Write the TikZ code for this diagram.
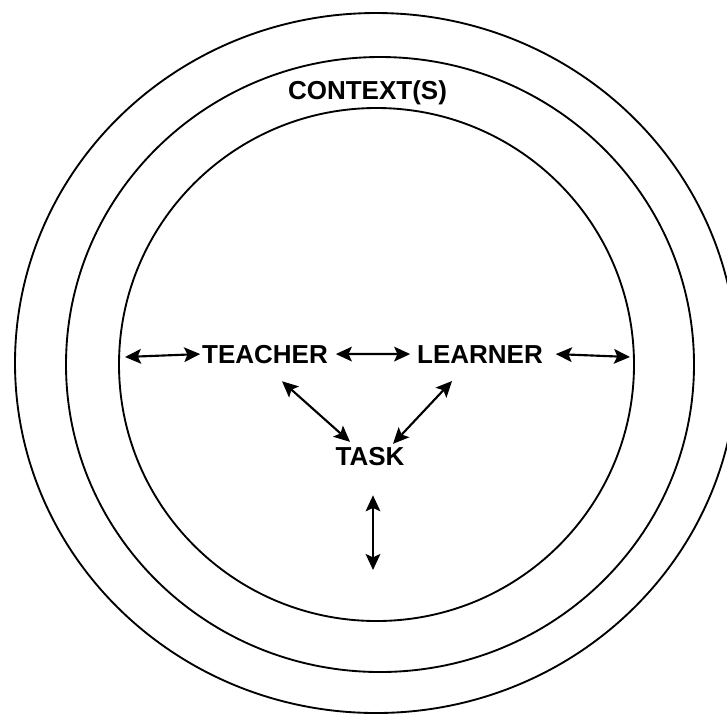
\documentclass[tikz,border=0pt]{standalone}
\usepackage{fontspec}
\setmainfont{Liberation Sans}
\usepackage{tikz}
\usetikzlibrary{arrows.meta,calc}

\begin{document}
\begin{tikzpicture}[x=0.75pt, y=-0.75pt, line width=1.4pt,
  word/.style={font=\fontsize{19.5}{23}\selectfont\bfseries, inner sep=0, outer sep=0, anchor=base},
  link/.style={{Stealth[length=12pt,width=11pt,inset=2.5pt]}-{Stealth[length=12pt,width=11pt,inset=2.5pt]}, line width=1.6pt}]

\useasboundingbox (0,0) rectangle (727,715);

\draw (376,363) ellipse [x radius=361, y radius=350];
\draw (380,364.5) ellipse [x radius=314, y radius=307.5];
\draw (376.5,364.5) ellipse [x radius=257.5, y radius=256.5];

\node[word] (context) at (367.5,99) {CONTEXT(S)};
\node[word] (teacher) at (265,363) {TEACHER};
\node[word] (learner) at (480,363) {LEARNER};
\node[word] (task) at (370,465) {TASK};

\coordinate (leftend) at (125,357);
\coordinate (rightend) at (630,357);
\coordinate (bottomend) at (373,570);

\draw[link] (leftend) -- ($(teacher.west)+(-2,0)$);
\draw[link] ($(teacher.east)+(8,0)$) -- ($(learner.west)+(-7,0)$);
\draw[link] ($(learner.east)+(13,0)$) -- (rightend);
\draw[link] ($(teacher.south)+(17,18)$) -- ($(task.north)+(-20,-5)$);
\draw[link] ($(learner.south)+(-28,18)$) -- ($(task.north)+(23,-3)$);
\draw[link] ($(task.south -| bottomend)+(0,30)$) -- (bottomend);

\end{tikzpicture}
\end{document}
